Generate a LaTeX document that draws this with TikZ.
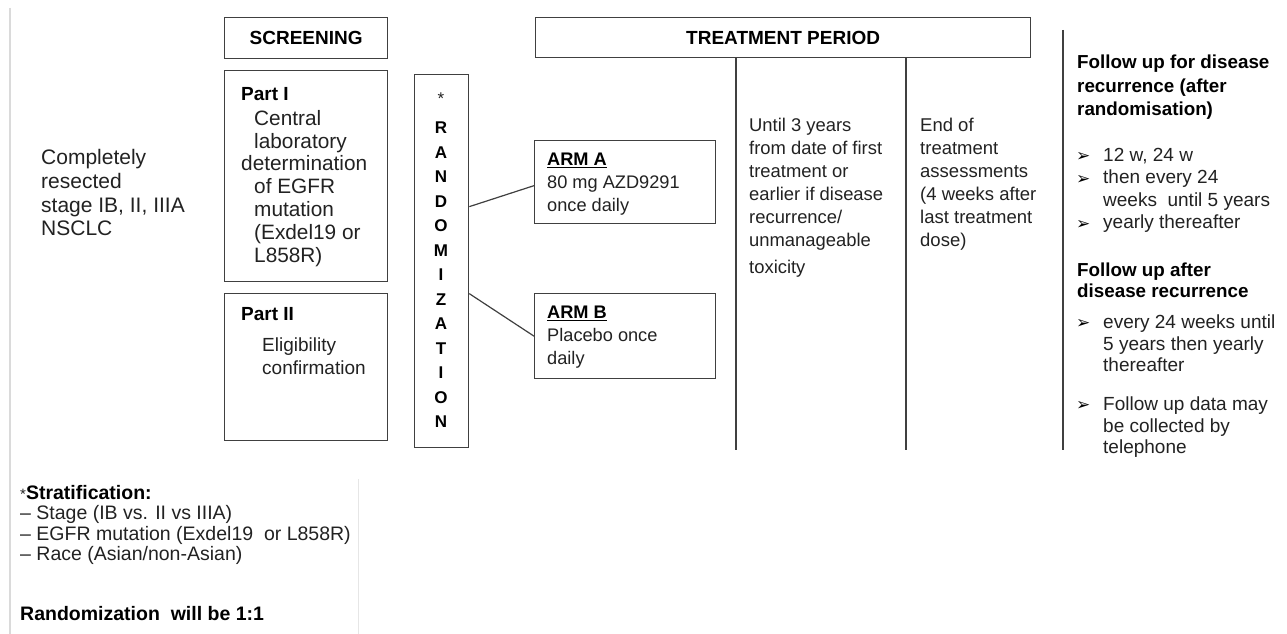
\documentclass[tikz,border=0pt]{standalone}
\usepackage{fontspec}
\setmainfont{Liberation Sans}
\newfontfamily\dejavu{DejaVu Sans}
\usetikzlibrary{calc}
\definecolor{txt}{HTML}{222222}
\definecolor{boxc}{HTML}{404040}
\definecolor{guide}{HTML}{DADADA}
\definecolor{guidelight}{HTML}{E6E6E6}
\newcommand\fsz[2]{\fontsize{#1pt}{#2pt}\selectfont}
\newcommand\blt{{\dejavu\bfseries\fsz{17}{17}\char"27A2}}
\tikzset{
  box/.style={draw=boxc, line width=1.3pt, inner sep=0pt, anchor=north west},
  conn/.style={draw=boxc, line width=1.2pt},
  lbl/.style={inner sep=0pt, anchor=north west, align=left, text=txt},
  hd/.style={inner sep=0pt, text=black, font=\bfseries\fsz{19}{22}},
  bul/.style={inner sep=0pt, anchor=west, text=black},
}
\begin{document}
\begin{tikzpicture}[x=1pt,y=-1pt]
\useasboundingbox (0,0) rectangle (1287,634);
\fill[white] (0,0) rectangle (1287,634);

% faint guide lines
\coordinate (g1a) at (10,8); \coordinate (g1b) at (10,634);
\draw[guide, line width=2pt] (g1a) -- (g1b);
\coordinate (g2a) at (358,479); \coordinate (g2b) at (358,634);
\draw[guidelight, line width=1pt] (g2a) -- (g2b);

% left label
\node[lbl, font=\fsz{21}{23.8}] (cond) at (41,149) {Completely\\resected\\stage IB, II, IIIA\\NSCLC};

% screening
\node[box, minimum width=163pt, minimum height=41pt] (scr) at (224,17) {};
\node[hd] (scrt) at (scr.center) {SCREENING};

\node[box, minimum width=163pt, minimum height=211pt] (p1) at (224,70) {};
\node[lbl, text=black, font=\bfseries\fsz{19}{22}] (p1h) at (241,87) {Part I};
\node[lbl, font=\fsz{20.8}{22.8}] (p1t) at (254,110) {Central\\laboratory\\\hspace*{-13pt}determination\\of EGFR\\mutation\\(Exdel19 or\\L858R)};

\node[box, minimum width=163pt, minimum height=147pt] (p2) at (224,293) {};
\node[lbl, text=black, font=\bfseries\fsz{19}{22}] (p2h) at (241,307) {Part II};
\node[lbl, font=\fsz{19}{23}] (p2t) at (262,338) {Eligibility\\confirmation};

% randomization
\node[box, minimum width=54pt, minimum height=373pt] (rand) at (414,74) {};
\node[inner sep=0pt, text=txt, font=\fsz{17}{17}] (star) at (441,99) {*};
\node[inner sep=0pt, anchor=north, align=center, text=black, font=\bfseries\fsz{17}{24.5}] (randt) at (441,122)
  {R\\A\\N\\D\\O\\M\\I\\Z\\A\\T\\I\\O\\N};

% treatment period
\node[box, minimum width=495pt, minimum height=40pt] (tp) at (535,17) {};
\node[hd] (tpt) at (tp.center) {TREATMENT PERIOD};

\node[box, minimum width=181pt, minimum height=83pt] (arma) at (534,140) {};
\node[lbl, font=\fsz{18.2}{23}] (armat) at (547,153) {\textbf{\color{black}\underline{ARM A}}\\80 mg AZD9291\\once daily};
\node[box, minimum width=181pt, minimum height=85pt] (armb) at (534,293) {};
\node[lbl, font=\fsz{18.2}{23}] (armbt) at (547,306) {\textbf{\color{black}\underline{ARM B}}\\Placebo once\\daily};

\draw[conn] ([yshift=54.5pt]rand.east) -- ([yshift=-3.5pt]arma.west);
\draw[conn] ([yshift=-32.5pt]rand.east) -- (armb.west);

\coordinate (v1) at (736,450);
\coordinate (v2) at (906,450);
\draw[conn] (tp.south -| v1) -- (v1);
\draw[conn] (tp.south -| v2) -- (v2);

\node[lbl, font=\fsz{18.4}{23}] (until) at (749,118) {Until 3 years\\from date of first\\treatment or\\earlier if disease\\recurrence/\\unmanageable\\[4pt]toxicity};
\node[lbl, font=\fsz{18.5}{23}] (eot) at (920,118) {End of\\treatment\\assessments\\(4 weeks after\\last treatment\\dose)};

% follow-up column
\coordinate (v3a) at (1063,30);
\coordinate (v3b) at (1063,450);
\draw[conn] (v3a) -- (v3b);

\node[lbl, text=black, font=\bfseries\fsz{18.8}{23.5}] (fu1) at (1077,55) {Follow up for disease\\recurrence (after\\randomisation)};
\node[lbl, font=\fsz{19}{22.5}] (l1) at (1103,148) {12 w, 24 w\\then every 24\\weeks\ \ until 5 years\\yearly thereafter};
\node[bul] (b1) at (1076,157) {\blt};
\node[bul] (b2) at (1076,179.5) {\blt};
\node[bul] (b3) at (1076,224.5) {\blt};

\node[lbl, text=black, font=\bfseries\fsz{18.8}{21}] (fu2) at (1077,263) {Follow up after\\disease recurrence};
\node[lbl, font=\fsz{19}{21.5}] (l2) at (1103,315) {every 24 weeks until\\5 years then yearly\\thereafter};
\node[bul] (b4) at (1076,324) {\blt};
\node[lbl, font=\fsz{19}{21.5}] (l3) at (1103,397) {Follow up data may\\be collected by\\telephone};
\node[bul] (b5) at (1076,406) {\blt};

% stratification
\node[lbl, font=\fsz{19.5}{20.4}] (strat) at (20,485)
  {{\fsz{15}{15}*}\textbf{\color{black}Stratification:}\\
   -- Stage (IB vs. II vs IIIA)\\
   -- EGFR mutation (Exdel19\ \ or L858R)\\
   -- Race (Asian/non-Asian)};
\node[lbl, text=black, font=\bfseries\fsz{19.5}{20}] (rr) at (20,606) {Randomization\ \ will be 1:1};
\end{tikzpicture}
\end{document}
